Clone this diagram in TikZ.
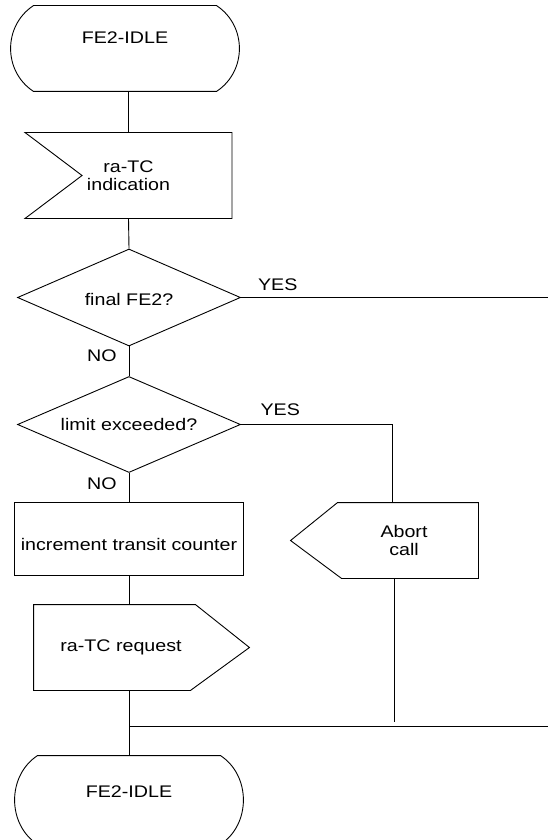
\documentclass[tikz,border=0pt]{standalone}
\usepackage{fontspec}
\setmainfont{Liberation Sans}[FakeStretch=1.17]
\usetikzlibrary{shapes}

% outline of an SDL state round a named node
\newcommand{\drawstate}[1]{%
    \draw ([xshift=23pt]#1.north west) -- ([xshift=-23pt]#1.north east)
        .. controls ([xshift=7.6pt,yshift=-20pt]#1.north east) and ([xshift=7.6pt,yshift=20pt]#1.south east)
        .. ([xshift=-23pt]#1.south east)
        -- ([xshift=23pt]#1.south west)
        .. controls ([xshift=-7.6pt,yshift=20pt]#1.south west) and ([xshift=-7.6pt,yshift=-20pt]#1.north west)
        .. ([xshift=23pt]#1.north west)
        -- cycle;}

\begin{document}
\begin{tikzpicture}[x=1pt, y=-1pt, line width=0.9pt,
    every node/.style={font=\fontsize{16.8}{17.5}\selectfont},
    state/.style={minimum width=228pt, minimum height=85pt, inner sep=0pt, text height=12pt, text depth=22pt},
    box/.style={minimum height=85pt, inner sep=0pt, align=center},
    decision/.style={draw, diamond, aspect=2.3, minimum width=223pt, minimum height=97pt, inner sep=0pt},
    lbl/.style={inner sep=0pt}]

    \useasboundingbox (0, 0) rectangle (548, 840);

    % Declare the states
    \node[state] at (125, 48.5) (idle1) {FE2-IDLE};
    \node[state, minimum height=88pt, text depth=17pt] at (129, 800) (idle2) {FE2-IDLE};

    % Declare the signals, decisions and tasks
    \node[box, minimum width=206pt] at (128.5, 175.5) (ind) {ra-TC\\indication};
    \node[decision, text height=16pt] at (129, 297.5) (fin) {final FE2?};
    \node[decision, minimum height=96pt] at (129, 424.5) (lim) {limit exceeded?};
    \node[draw, minimum width=229pt, minimum height=73pt, inner sep=0pt, text height=23pt, text depth=0pt]
        at (129, 538.5) (task) {increment transit counter};
    \node[box, minimum width=174pt] at (121, 647.5) (req) {ra-TC request};
    \node[box, minimum width=148pt, minimum height=75pt] at (404, 540.5) (abort) {Abort\\call};

    % Declare the free ends and corners
    \coordinate (exit1) at (548, 297.5);
    \coordinate (turn) at (392, 424.5);
    \coordinate (stop) at (394, 722);
    \coordinate (join) at (129, 726);
    \coordinate (exit2) at (548, 726);

    % Draw the symbol outlines
    \drawstate{idle1}
    \drawstate{idle2}
    \draw (ind.north west) -- (ind.north east) -- (ind.south east) -- (ind.south west)
        -- ([xshift=57pt]ind.west) -- cycle;
    \draw (req.north west) -- ([xshift=-13pt]req.north east) -- ([xshift=41pt]req.east)
        -- ([xshift=-18pt]req.south east) -- (req.south west) -- cycle;
    \draw (abort.north east) -- ([xshift=8pt]abort.north west) -- ([xshift=-39pt]abort.west)
        -- ([xshift=12pt]abort.south west) -- (abort.south east) -- cycle;

    % Declare edges
    \draw (idle1.south -| ind.north) -- (ind.north);
    \draw (ind.south) -- (fin.north);
    \draw (fin.east) -- (exit1) node[lbl, pos=0.12, above=6pt] {YES};
    \draw (fin.south) -- (lim.north) node[lbl, pos=0.31, left=12pt] {NO};
    \draw (lim.east) -- (turn) node[lbl, pos=0.26, above=8pt] {YES} -- (turn |- abort.north);
    \draw (lim.south) -- (task.north) node[lbl, pos=0.37, left=12pt] {NO};
    \draw (task.south) -- (task.south |- req.north);
    \draw (abort.south -| stop) -- (stop);
    \draw (idle2.north |- req.south) -- (idle2.north);
    \draw (join) -- (exit2);

\end{tikzpicture}
\end{document}
